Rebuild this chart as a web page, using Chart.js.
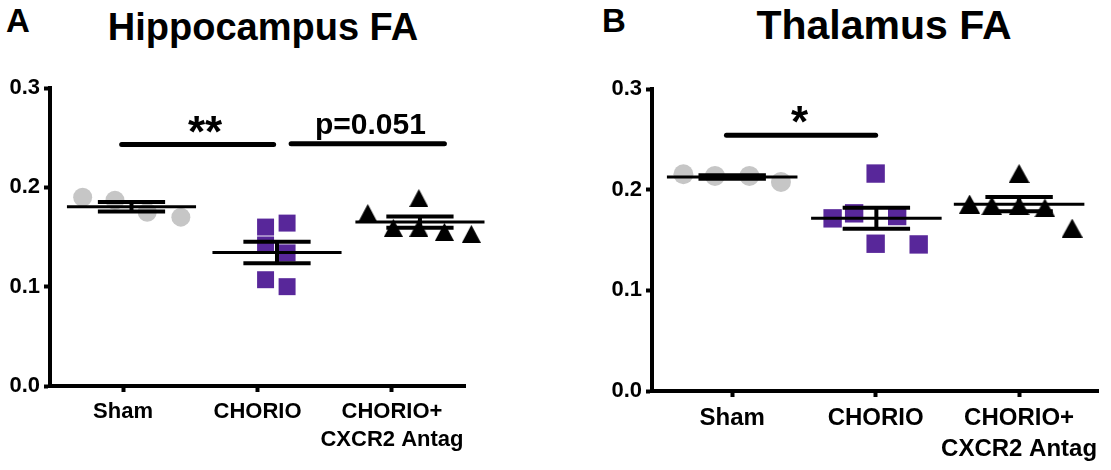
<!DOCTYPE html>
<html>
<head>
<meta charset="utf-8">
<script src="https://cdn.jsdelivr.net/npm/chart.js@4.4.0/dist/chart.umd.min.js"></script>
<style>
  body { margin: 0; background: #fff; width: 1111px; height: 470px; position: relative; overflow: hidden;
         font-family: "Liberation Sans", Arial, sans-serif; font-weight: bold; color: #000; }
  canvas { position: absolute; top: 0; }
  .lbl { position: absolute; line-height: 1; white-space: nowrap; }
</style>
</head>
<body>
<div class="lbl" style="left:6px;top:4px;font-size:33px">A</div>
<div class="lbl" style="left:263px;top:8px;font-size:38px;transform:translateX(-50%)">Hippocampus FA</div>
<div class="lbl" style="left:602px;top:4px;font-size:33px">B</div>
<div class="lbl" style="left:884px;top:5px;font-size:41px;transform:translateX(-50%)">Thalamus FA</div>
<canvas id="hipp" width="560" height="470" style="left:0"></canvas>
<canvas id="thal" width="551" height="470" style="left:560px"></canvas>
<script>
const groups = ['Sham', 'CHORIO', ['CHORIO+', 'CXCR2 Antag']];
const yTicks = [0, 0.1, 0.2, 0.3];

// Hippocampus FA (one value per animal) + the x jitter of each dot
const hippSham = [0.190, 0.187, 0.175, 0.170];
const hippShamX = [-0.30, -0.06, 0.18, 0.43];
const hippChorio = [0.160, 0.164, 0.142, 0.134, 0.107, 0.100];
const hippChorioX = [1.06, 1.22, 1.06, 1.22, 1.06, 1.22];
const hippAntag = [0.1742, 0.1592, 0.1892, 0.1592, 0.1552, 0.1532];
const hippAntagX = [1.82, 2.01, 2.20, 2.20, 2.39, 2.59];
const hippCenters = [0.063, 1.145, 2.208];
const hippSig = [
  { from: -0.01, to: 1.12, y: 0.243, at: 0.61, text: '**' },
  { from: 1.25, to: 2.39, y: 0.244, at: 1.84, text: 'p=0.051' }
];

// Thalamus FA
const thalSham = [0.2153, 0.2137, 0.2137, 0.2077];
const thalShamX = [-0.34, -0.12, 0.12, 0.34];
const thalChorio = [0.1715, 0.1765, 0.216, 0.1738, 0.1463, 0.1456];
const thalChorioX = [0.70, 0.85, 1.0, 1.15, 1.0, 1.30];
const thalAntag = [0.1857, 0.184, 0.216, 0.184, 0.1818, 0.1618];
const thalAntagX = [1.655, 1.81, 2.0, 2.0, 2.18, 2.37];
const thalCenters = [0.0, 1.005, 2.0];
const thalSig = [
  { from: -0.04, to: 1.0, y: 0.254, at: 0.47, text: '*' }
];

function meanSem(v) {
  const m = v.reduce((a, b) => a + b, 0) / v.length;
  const sd = Math.sqrt(v.reduce((a, b) => a + (b - m) ** 2, 0) / (v.length - 1));
  return [m, sd / Math.sqrt(v.length)];
}

// triangle marker centred on its box
function triangle(w, h) {
  const c = document.createElement('canvas');
  c.width = w; c.height = h;
  const g = c.getContext('2d');
  g.fillStyle = '#000';
  g.beginPath(); g.moveTo(w / 2, 0); g.lineTo(w, h); g.lineTo(0, h); g.closePath(); g.fill();
  return c;
}

function seg(x1, y1, x2, y2, w) {
  return { type: 'line', data: [{ x: x1, y: y1 }, { x: x2, y: y2 }], borderColor: '#000',
           borderWidth: w, pointRadius: 0, order: 0, borderCapStyle: 'butt', clip: false };
}

function dots(ys, xs, style, color, r) {
  return { data: ys.map((y, i) => ({ x: xs[i], y: y })), pointStyle: style, pointRadius: r,
           backgroundColor: color, borderWidth: 0, order: 1, clip: false };
}

function sigPlugin(bars) {
  return {
    id: 'sig',
    afterDraw(chart) {
      const ctx = chart.ctx, xs = chart.scales.x, ys = chart.scales.y;
      ctx.save();
      bars.forEach(b => {
        const x1 = xs.getPixelForValue(b.from), x2 = xs.getPixelForValue(b.to), y = ys.getPixelForValue(b.y);
        ctx.lineWidth = 5; ctx.lineCap = 'round'; ctx.strokeStyle = '#000';
        ctx.beginPath(); ctx.moveTo(x1, y); ctx.lineTo(x2, y); ctx.stroke();
        // asterisks are set larger, like the original
        const stars = /^\*+$/.test(b.text);
        ctx.font = stars ? 'bold 44px "Liberation Sans", Arial' : 'bold 30px "Liberation Sans", Arial';
        ctx.textAlign = 'center'; ctx.fillStyle = '#000';
        ctx.fillText(b.text, xs.getPixelForValue(b.at), stars ? y + 2 : y - 10);
      });
      ctx.restore();
    }
  };
}

function panel(id, sets, centers, sig, o) {
  const datasets = [];
  sets.forEach((s, i) => {
    const [m, se] = meanSem(s.ys);
    const c = centers[i];
    datasets.push(seg(c - o.meanW, m, c + o.meanW, m, 3));
    datasets.push(seg(c - o.capW, m + se, c + o.capW, m + se, 4));
    datasets.push(seg(c - o.capW, m - se, c + o.capW, m - se, 4));
    datasets.push(seg(c, m - se, c, m + se, 4));
    datasets.push(dots(s.ys, s.xs, s.style, s.color, s.r));
  });
  const axisGrid = { drawOnChartArea: false, tickLength: 6, tickWidth: 4, tickColor: '#000' };
  const axisBorder = { width: 4, color: '#000' };
  new Chart(document.getElementById(id), {
    type: 'scatter',
    data: { datasets },
    options: {
      responsive: false,
      animation: false,
      layout: { padding: { top: o.top, right: o.right, left: 0, bottom: 0 } },
      plugins: { legend: { display: false }, tooltip: { enabled: false } },
      scales: {
        x: {
          type: 'linear', min: o.min, max: o.max,
          afterBuildTicks: ax => { ax.ticks = [0, 1, 2].map(v => ({ value: v })); },
          afterFit: ax => { ax.height = o.xh; },
          ticks: { callback: v => groups[v], color: '#000', padding: 6, maxRotation: 0, autoSkip: false,
                   font: { family: '"Liberation Sans", Arial', weight: 'bold', size: o.xFont, lineHeight: o.xLine } },
          grid: axisGrid, border: axisBorder
        },
        y: {
          min: 0, max: 0.3,
          afterBuildTicks: ax => { ax.ticks = yTicks.map(v => ({ value: v })); },
          afterFit: ax => { ax.width = o.yw; },
          ticks: { callback: v => v.toFixed(1), color: '#000', padding: 4,
                   font: { family: '"Liberation Sans", Arial', weight: 'bold', size: 22 } },
          grid: axisGrid, border: axisBorder
        }
      }
    },
    plugins: [sigPlugin(sig)]
  });
}

const purple = '#58279a';
const grey = '#c6c6c6';

panel('hipp', [
  { ys: hippSham, xs: hippShamX, style: 'circle', color: grey, r: 9.5 },
  { ys: hippChorio, xs: hippChorioX, style: 'rect', color: purple, r: 12 },
  { ys: hippAntag, xs: hippAntagX, style: triangle(19, 18), color: '#000', r: 10 }
], hippCenters, hippSig,
  { top: 88, right: 95, yw: 50, xh: 84, min: -0.543, max: 2.543, meanW: 0.48, capW: 0.25, xFont: 22, xLine: 1.27 });

panel('thal', [
  { ys: thalSham, xs: thalShamX, style: 'circle', color: grey, r: 10 },
  { ys: thalChorio, xs: thalChorioX, style: 'rect', color: purple, r: 13 },
  { ys: thalAntag, xs: thalAntagX, style: triangle(21, 19), color: '#000', r: 10 }
], thalCenters, thalSig,
  { top: 89, right: 3, yw: 92, xh: 79, min: -0.559, max: 2.55, meanW: 0.455, capW: 0.235, xFont: 24, xLine: 1.3 });
</script>
</body>
</html>
